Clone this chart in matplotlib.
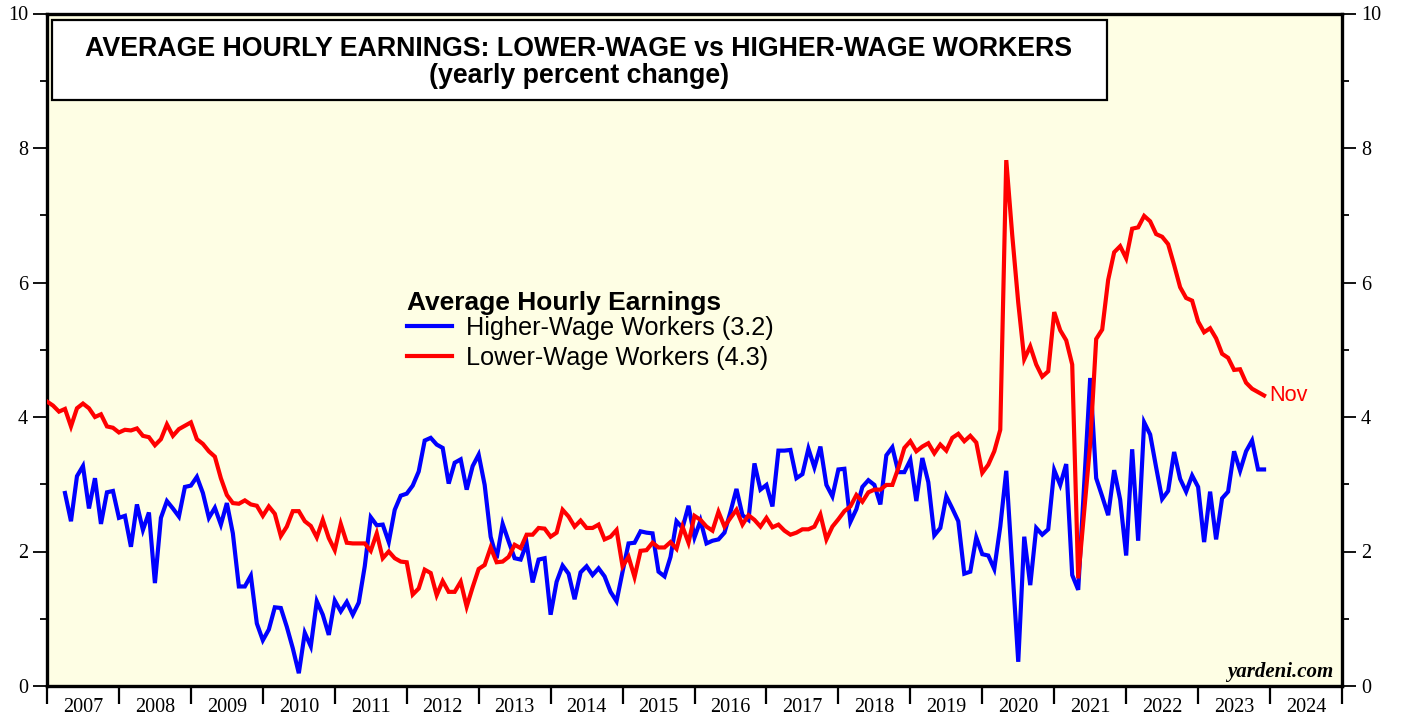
import numpy as np
import matplotlib
matplotlib.use("Agg")
import matplotlib.pyplot as plt
from matplotlib.patches import Rectangle
from matplotlib.ticker import FixedLocator, NullFormatter, FixedFormatter

# ---------------------------------------------------------------------------
# data: yearly percent change, monthly
# ---------------------------------------------------------------------------

lower_start = (2006, 12)
lower_wage = [
    4.23, 4.17, 4.08, 4.12, 3.86, 4.13, 4.20, 4.13, 4.00, 4.04, 3.86, 3.84,
    3.77, 3.81, 3.80, 3.83, 3.72, 3.70, 3.58, 3.67, 3.89, 3.72, 3.82, 3.87,
    3.92, 3.67, 3.60, 3.49, 3.41, 3.09, 2.84, 2.72, 2.71, 2.76, 2.70, 2.68,
    2.53, 2.67, 2.56, 2.23, 2.37, 2.60, 2.60, 2.45, 2.38, 2.21, 2.47, 2.20,
    2.02, 2.41, 2.13, 2.12, 2.12, 2.12, 2.01, 2.27, 1.90, 2.00, 1.90, 1.85,
    1.84, 1.36, 1.45, 1.73, 1.68, 1.35, 1.56, 1.40, 1.40, 1.55, 1.18, 1.47,
    1.74, 1.80, 2.06, 1.84, 1.85, 1.92, 2.10, 2.05, 2.25, 2.25, 2.35, 2.34,
    2.22, 2.28, 2.62, 2.52, 2.37, 2.46, 2.35, 2.35, 2.40, 2.18, 2.22, 2.32,
    1.78, 1.92, 1.62, 2.01, 2.02, 2.13, 2.06, 2.06, 2.14, 2.04, 2.37, 2.13,
    2.53, 2.47, 2.37, 2.31, 2.59, 2.37, 2.50, 2.62, 2.40, 2.54, 2.47, 2.37,
    2.50, 2.36, 2.40, 2.31, 2.25, 2.28, 2.33, 2.33, 2.37, 2.55, 2.18, 2.37,
    2.48, 2.60, 2.67, 2.84, 2.74, 2.88, 2.92, 2.92, 2.99, 2.99, 3.24, 3.54,
    3.64, 3.49, 3.56, 3.61, 3.46, 3.59, 3.50, 3.69, 3.75, 3.64, 3.72, 3.62,
    3.17, 3.29, 3.49, 3.81, 7.82, 6.70, 5.70, 4.86, 5.05, 4.78, 4.60, 4.68,
    5.56, 5.29, 5.14, 4.78, 1.60, 2.60, 3.60, 5.16, 5.30, 6.04, 6.45, 6.54,
    6.36, 6.80, 6.82, 6.99, 6.91, 6.72, 6.68, 6.57, 6.26, 5.93, 5.77, 5.73,
    5.42, 5.26, 5.32, 5.17, 4.94, 4.88, 4.70, 4.71, 4.51, 4.42, 4.37, 4.32,
]

higher_start = (2007, 3)
higher_wage = [
    2.87, 2.45, 3.12, 3.27, 2.64, 3.09, 2.41, 2.88, 2.90,
    2.50, 2.53, 2.07, 2.70, 2.32, 2.58, 1.53, 2.50, 2.75, 2.64, 2.52, 2.96,
    2.98, 3.11, 2.87, 2.50, 2.65, 2.40, 2.72, 2.27, 1.48, 1.48, 1.64, 0.93,
    0.68, 0.84, 1.17, 1.16, 0.88, 0.56, 0.19, 0.79, 0.59, 1.26, 1.06, 0.76,
    1.27, 1.11, 1.25, 1.06, 1.24, 1.78, 2.51, 2.39, 2.40, 2.14, 2.62, 2.83,
    2.86, 2.98, 3.19, 3.65, 3.69, 3.59, 3.54, 3.01, 3.32, 3.37, 2.92, 3.27,
    3.44, 2.99, 2.22, 1.90, 2.41, 2.15, 1.90, 1.88, 2.12, 1.54, 1.88, 1.90,
    1.06, 1.55, 1.79, 1.67, 1.29, 1.69, 1.78, 1.65, 1.75, 1.63, 1.40, 1.26,
    1.70, 2.12, 2.13, 2.30, 2.28, 2.27, 1.70, 1.63, 1.92, 2.45, 2.35, 2.68,
    2.21, 2.46, 2.12, 2.16, 2.18, 2.28, 2.59, 2.93, 2.54, 2.47, 3.31, 2.92,
    2.99, 2.67, 3.50, 3.50, 3.51, 3.09, 3.15, 3.53, 3.25, 3.56, 2.99, 2.82,
    3.22, 3.23, 2.44, 2.63, 2.96, 3.06, 2.99, 2.70, 3.43, 3.55, 3.18, 3.18,
    3.36, 2.75, 3.39, 3.03, 2.24, 2.35, 2.82, 2.64, 2.45, 1.67, 1.70, 2.21,
    1.96, 1.94, 1.74, 2.37, 3.20, 1.78, 0.36, 2.22, 1.50, 2.35, 2.25, 2.33,
    3.21, 2.99, 3.30, 1.65, 1.43, 3.00, 4.58, 3.09, 2.82, 2.54, 3.21, 2.77,
    1.94, 3.52, 2.16, 3.92, 3.74, 3.25, 2.78, 2.90, 3.48, 3.08, 2.89, 3.13,
    2.96, 2.14, 2.89, 2.18, 2.79, 2.89, 3.49, 3.20, 3.49, 3.65, 3.22, 3.22,
]

year_labels = [str(y) for y in range(2007, 2025)]
higher_label = "Higher-Wage Workers (3.2)"
lower_label = "Lower-Wage Workers (4.3)"


def month_axis(start, n):
    # month-end position in decimal years
    y, m = start
    return y + m / 12.0 + np.arange(n) / 12.0


x_low = month_axis(lower_start, len(lower_wage))
x_high = month_axis(higher_start, len(higher_wage))

# ---------------------------------------------------------------------------
# figure
# ---------------------------------------------------------------------------

W, H = 1403, 719
fig = plt.figure(figsize=(W / 100, H / 100), dpi=100)
ax = fig.add_axes([47 / W, 1 - 686 / H, (1342 - 47) / W, (686 - 13.5) / H])
ax.set_facecolor("#fefee4")

sans = "Liberation Sans"
serif = "Liberation Serif"

ax.plot(x_high, higher_wage, color="#0000ff", lw=3.0, label=higher_label,
        solid_joinstyle="miter", zorder=3)
ax.plot(x_low, lower_wage, color="#ff0000", lw=3.0, label=lower_label,
        solid_joinstyle="miter", zorder=4)

ax.set_xlim(2007, 2025)
ax.set_ylim(0, 10)

# x axis: year ticks, labels centred between them
ax.xaxis.set_major_locator(FixedLocator(np.arange(2007, 2026)))
ax.xaxis.set_major_formatter(NullFormatter())
ax.xaxis.set_minor_locator(FixedLocator(np.arange(2007, 2025) + 0.5))
ax.xaxis.set_minor_formatter(FixedFormatter(year_labels))
ax.tick_params(axis="x", which="major", direction="out", length=13, width=1.6)
ax.tick_params(axis="x", which="minor", length=0, pad=8.5, labelsize=14.5)

# y axis both sides
ax.yaxis.set_major_locator(FixedLocator(np.arange(0, 11, 2)))
ax.yaxis.set_minor_locator(FixedLocator(np.arange(1, 10, 2)))
ax.tick_params(axis="y", which="both", direction="out", left=True, right=True,
               labelleft=True, labelright=True, width=1.3)
ax.tick_params(axis="y", which="major", length=10, pad=3.5, labelsize=14.5)
ax.tick_params(axis="y", which="minor", length=5)

for lab in ax.get_xticklabels(minor=True) + ax.get_yticklabels():
    lab.set_fontfamily(serif)
for t in ax.yaxis.get_major_ticks():
    t.label2.set_fontfamily(serif)
    t.label2.set_fontsize(14.5)

for s in ax.spines.values():
    s.set_linewidth(2.4)

# title box
ax.add_patch(Rectangle((0.0039, 0.8714), 0.8146, 0.1189, transform=ax.transAxes,
                       facecolor="white", edgecolor="black", lw=1.6, zorder=5))
ax.text(0.4108, 0.947, "AVERAGE HOURLY EARNINGS: LOWER-WAGE vs HIGHER-WAGE WORKERS",
        transform=ax.transAxes, ha="center", va="center", fontsize=19.3,
        fontweight="bold", family=sans, zorder=6)
ax.text(0.4108, 0.907, "(yearly percent change)", transform=ax.transAxes,
        ha="center", va="center", fontsize=19.3, fontweight="bold", family=sans,
        zorder=6)

# legend
leg = ax.legend(loc="upper left", bbox_to_anchor=(0.278, 0.588), frameon=False,
                title="Average Hourly Earnings", handlelength=1.78,
                handletextpad=0.55, labelspacing=0.22, borderpad=0,
                borderaxespad=0, prop={"family": sans, "size": 18.2})
leg.get_title().set_fontweight("bold")
leg.get_title().set_fontfamily(sans)
leg.get_title().set_fontsize(19)
leg._legend_box.align = "left"
leg._legend_box.sep = 1

# end label
ax.annotate("Nov", xy=(x_low[-1], lower_wage[-1]), xytext=(3.5, 0),
            textcoords="offset points", ha="left", va="center", color="#ff0000",
            fontsize=15.6, family=sans)

ax.text(0.993, 0.014, "yardeni.com", transform=ax.transAxes, ha="right",
        va="baseline", fontsize=15, fontweight="bold", fontstyle="italic",
        family=serif)

fig.savefig("out.png", dpi=100)
